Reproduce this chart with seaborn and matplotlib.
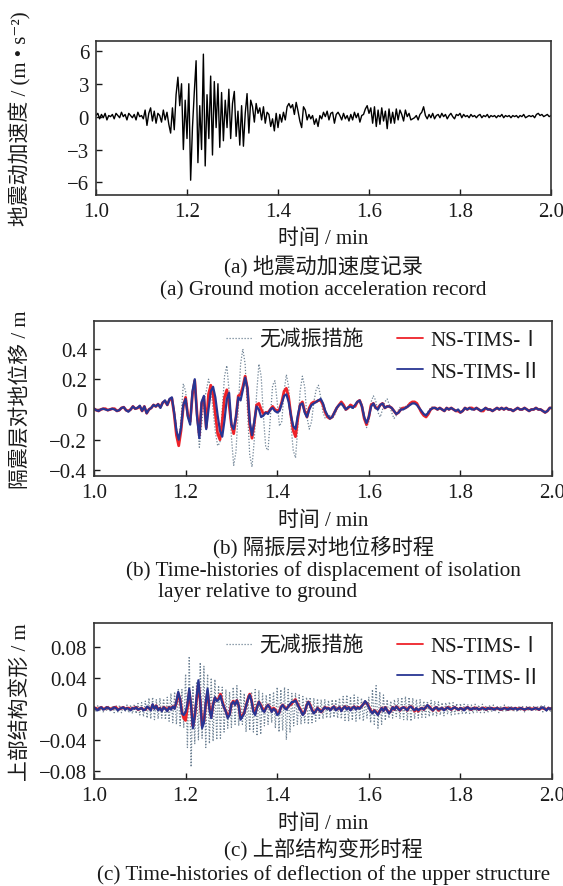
import numpy as np
import matplotlib
matplotlib.use("Agg")
import matplotlib.pyplot as plt
from matplotlib.lines import Line2D
import seaborn as sns

# ---------------- data ----------------
# (a) ground motion acceleration, m/s^2, sampled every 0.004 min from 1.000 to 2.000
t_a = np.round(1.0 + 0.004 * np.arange(251), 3)
acc = [
    0.1, 0.3, -0.2, 0.2, -0.1, 0.3, -0.3, 0.1, 0.0, 0.2,
    -0.2, 0.3, 0.1, -0.1, 0.4, 0.0, 0.2, -0.3, 0.3, 0.1,
    -0.1, 0.2, -0.3, 0.4, 0.0, 0.1, -0.2, 0.6, -0.8, 0.3,
    0.8, -0.4, 0.5, -0.6, 0.3, 0.1, -0.5, 0.6, -0.3, 0.4,
    -0.7, -1.5, 0.8, -1.2, 2.0, 3.6, 1.0, 3.0, -3.0, 1.5,
    -2.0, 3.0, -5.8, -1.0, 2.2, 5.1, -4.2, 1.0, -3.0, 5.7,
    -4.5, 2.0, -2.0, 3.7, -3.5, 3.2, -1.0, 3.0, -2.8, 2.2,
    -2.2, 1.5, -1.0, 2.5, -2.0, 1.2, 2.3, -1.8, 0.5, -2.6,
    1.0, -2.7, 0.3, 2.1, -1.5, 1.5, 0.9, -0.5, 1.2, 0.3,
    0.8, -0.3, 0.9, -0.6, 0.4, 0.2, -0.9, -0.2, -1.3, 0.3,
    -1.0, 0.2, -0.5, 0.4, -0.3, 0.9, 1.2, 0.8, 1.1, 0.2,
    1.3, 0.5, -0.4, -1.0, 0.9, 0.6, -0.3, 0.2, -0.2, 0.1,
    -0.7, -0.2, -0.9, 0.1, -0.2, 0.4, 0.0, 0.5, -0.3, 0.3,
    0.4, -0.6, 0.2, 0.4, 0.1, -0.3, 0.3, -0.2, 0.1, -0.4,
    0.2, -0.3, 0.4, -0.1, 0.3, -0.5, 0.1, 0.2, 0.7, 1.0,
    0.3, 0.8, -0.6, 0.9, -0.9, 0.6, -0.7, 0.8, -0.4, 0.5,
    -1.1, 0.7, -0.6, 0.4, -0.6, 0.7, -0.3, 0.6, 0.2, -0.4,
    0.6, 0.0, 0.3, -0.3, -0.2, -0.1, 0.1, -0.3, 0.2, 0.4,
    0.9, 0.1, -0.2, 0.2, -0.1, 0.3, -0.2, 0.1, 0.2, -0.1,
    0.3, 0.0, 0.2, -0.2, 0.1, 0.3, 0.0, -0.2, 0.2, 0.1,
    0.3, -0.1, 0.2, 0.0, 0.1, -0.1, 0.2, 0.0, 0.1, -0.1,
    0.1, 0.2, -0.1, 0.1, 0.0, 0.2, -0.1, 0.1, 0.0, 0.1,
    -0.1, 0.1, 0.0, 0.2, -0.1, 0.1, 0.0, 0.1, -0.1, 0.1,
    0.0, 0.1, -0.1, 0.1, 0.0, 0.2, -0.1, 0.0, 0.1, 0.0,
    0.1, -0.1, 0.2, 0.3, 0.1, 0.2, 0.0, 0.1, 0.2, 0.0,
    0.1,
]

# (b) isolation-layer displacement, m, sampled every 0.005 min
t_b = np.round(1.0 + 0.005 * np.arange(201), 3)
disp_none = [
    0.005, -0.005, -0.005, 0.000, 0.005, 0.000, -0.005, 0.000, 0.005, 0.000,
    -0.010, -0.005, 0.010, 0.015, -0.005, -0.010, 0.000, 0.020, 0.005, 0.010,
    0.020, -0.015, 0.020, -0.020, 0.000, 0.010, 0.025, 0.020, 0.035, 0.015,
    0.045, 0.060, 0.040, 0.060, 0.060, 0.000, -0.120, -0.220, -0.060, 0.170,
    0.120, -0.030, -0.100, 0.120, 0.200, -0.050, -0.250, -0.100, 0.050, 0.120,
    0.200, 0.140, 0.000, -0.150, -0.240, -0.220, 0.000, 0.220, 0.290, 0.120,
    -0.180, -0.370, -0.280, 0.000, 0.300, 0.400, 0.300, 0.000, -0.300, -0.380,
    -0.200, 0.100, 0.300, 0.220, -0.050, -0.250, -0.270, -0.050, 0.160, 0.190,
    0.050, -0.110, -0.080, 0.120, 0.230, 0.150, -0.100, -0.270, -0.320, -0.120,
    0.120, 0.220, 0.150, -0.050, -0.130, -0.080, 0.050, 0.130, 0.160, 0.080,
    -0.020, -0.060, -0.050, -0.040, -0.060, -0.040, 0.000, 0.030, 0.040, 0.010,
    -0.010, 0.010, 0.030, 0.000, 0.030, 0.050, 0.060, 0.040, -0.040, -0.120,
    -0.080, 0.050, 0.090, 0.060, -0.020, -0.050, 0.000, 0.050, 0.070, 0.030,
    -0.020, -0.060, -0.040, 0.000, 0.020, 0.000, 0.020, 0.030, 0.040, 0.040,
    0.050, 0.030, 0.000, -0.020, -0.040, -0.030, -0.010, 0.010, 0.020, 0.010,
    0.000, 0.010, 0.000, -0.010, 0.010, 0.000, 0.010, 0.000, -0.010, 0.000,
    -0.020, -0.010, 0.010, 0.000, 0.010, 0.000, 0.000, 0.010, 0.000, -0.010,
    0.000, 0.010, 0.000, 0.000, -0.010, 0.000, 0.010, 0.000, 0.010, 0.000,
    0.010, 0.000, 0.000, -0.010, 0.000, 0.010, 0.000, 0.000, 0.010, 0.000,
    -0.010, 0.000, 0.000, 0.010, 0.000, 0.000, -0.010, -0.020, -0.010, 0.010,
    0.010,
]
disp_I = [
    0.005, -0.005, -0.010, 0.000, 0.005, 0.005, -0.005, 0.000, 0.005, 0.005,
    -0.010, -0.005, 0.010, 0.015, -0.005, -0.010, 0.000, 0.020, 0.005, 0.010,
    0.020, -0.010, 0.020, -0.025, 0.000, 0.010, 0.030, 0.020, 0.035, 0.015,
    0.045, 0.055, 0.030, 0.065, 0.075, -0.030, -0.170, -0.240, -0.140, 0.020,
    0.080, -0.040, -0.080, 0.100, 0.190, -0.030, -0.170, 0.040, 0.080, -0.120,
    0.100, 0.160, 0.100, -0.030, -0.160, -0.200, -0.080, 0.080, 0.130, 0.030,
    -0.100, -0.160, -0.050, 0.090, 0.100, 0.150, 0.220, 0.140, -0.100, -0.190,
    -0.090, 0.030, 0.040, 0.000, -0.030, -0.020, -0.020, 0.000, 0.020, 0.000,
    -0.010, 0.000, 0.050, 0.120, 0.140, 0.080, -0.040, -0.140, -0.180, -0.060,
    0.030, 0.050, -0.010, -0.050, 0.010, 0.040, 0.050, 0.050, 0.060, 0.060,
    0.030, -0.020, -0.050, -0.060, -0.050, -0.020, 0.010, 0.030, 0.050, 0.030,
    0.000, 0.010, 0.030, 0.020, 0.020, 0.050, 0.060, 0.020, -0.060, -0.100,
    -0.050, 0.030, 0.040, 0.010, 0.010, 0.030, 0.040, 0.010, 0.020, 0.020,
    0.010, -0.010, -0.030, -0.020, 0.000, 0.010, 0.010, 0.020, 0.040, 0.050,
    0.050, 0.040, 0.010, -0.020, -0.040, -0.050, -0.030, 0.000, 0.010, 0.010,
    0.000, 0.010, 0.000, -0.010, 0.010, 0.000, 0.010, 0.000, -0.010, -0.010,
    -0.020, -0.010, 0.010, 0.000, 0.010, 0.010, 0.000, 0.010, 0.000, -0.010,
    -0.010, 0.010, 0.000, 0.000, -0.010, 0.000, 0.010, 0.000, 0.010, 0.000,
    0.010, 0.000, 0.000, -0.010, 0.000, 0.010, 0.000, 0.000, 0.010, 0.000,
    -0.010, 0.000, 0.000, 0.010, 0.000, 0.000, -0.010, -0.020, -0.010, 0.010,
    0.010,
]
disp_II = [
    0.005, -0.005, -0.010, 0.000, 0.005, 0.000, -0.005, 0.000, 0.005, 0.000,
    -0.010, -0.005, 0.010, 0.015, -0.005, -0.015, 0.000, 0.020, 0.005, 0.010,
    0.025, -0.010, 0.020, -0.025, 0.000, 0.010, 0.030, 0.020, 0.035, 0.010,
    0.045, 0.060, 0.030, 0.070, 0.080, -0.020, -0.140, -0.200, -0.120, 0.030,
    0.070, -0.050, -0.100, 0.120, 0.200, -0.050, -0.190, 0.050, 0.090, -0.130,
    0.000, 0.120, 0.150, 0.080, -0.040, -0.140, -0.180, -0.070, 0.070, 0.110,
    -0.100, -0.130, -0.050, 0.080, 0.060, 0.130, 0.210, 0.140, -0.080, -0.170,
    -0.080, 0.020, 0.000, -0.050, -0.040, -0.020, -0.030, 0.000, 0.010, -0.010,
    -0.020, -0.010, 0.040, 0.090, 0.100, 0.050, -0.040, -0.110, -0.130, -0.040,
    0.030, 0.040, -0.020, -0.050, 0.000, 0.030, 0.040, 0.050, 0.060, 0.070,
    0.040, -0.010, -0.040, -0.060, -0.050, -0.020, 0.010, 0.030, 0.040, 0.020,
    0.000, 0.015, 0.020, 0.010, 0.030, 0.050, 0.060, 0.020, -0.050, -0.090,
    -0.050, 0.020, 0.040, 0.010, 0.000, 0.030, 0.040, 0.010, 0.020, 0.020,
    0.010, -0.010, -0.030, -0.020, 0.000, 0.000, 0.010, 0.020, 0.030, 0.040,
    0.040, 0.030, 0.010, -0.010, -0.030, -0.040, -0.020, 0.000, 0.010, 0.010,
    0.000, 0.010, 0.000, -0.010, 0.010, 0.000, 0.010, 0.000, -0.010, 0.000,
    -0.020, -0.010, 0.010, 0.000, 0.010, 0.000, 0.000, 0.010, 0.000, -0.010,
    0.000, 0.010, 0.000, 0.000, -0.010, 0.000, 0.010, 0.000, 0.010, 0.000,
    0.010, 0.000, 0.000, -0.010, 0.000, 0.010, 0.000, 0.000, 0.010, 0.000,
    -0.010, 0.000, 0.000, 0.010, 0.000, 0.000, -0.010, -0.020, -0.010, 0.010,
    0.010,
]

# (c) upper-structure deflection, m, sampled every 0.004 min
t_c = np.round(1.0 + 0.004 * np.arange(251), 3)
def_none = [
    0.003, -0.004, 0.004, -0.003, 0.004, -0.004, 0.003, -0.003, 0.004, -0.004,
    0.004, -0.005, 0.005, -0.004, 0.005, -0.005, 0.004, -0.004, 0.005, -0.005,
    0.005, -0.006, 0.006, -0.006, 0.007, -0.008, 0.008, -0.010, 0.010, -0.012,
    0.014, -0.013, 0.015, -0.014, 0.012, -0.013, 0.014, -0.012, 0.013, -0.014,
    0.015, -0.016, 0.020, -0.018, 0.022, -0.020, 0.025, -0.022, 0.025, -0.024,
    0.045, -0.050, 0.068, -0.075, 0.030, -0.045, 0.035, -0.040, 0.060, -0.038,
    0.055, -0.050, 0.045, -0.045, 0.040, -0.042, 0.038, -0.040, 0.030, -0.038,
    0.028, -0.030, 0.025, -0.025, 0.022, -0.024, 0.028, -0.020, 0.030, -0.022,
    0.025, -0.020, 0.020, -0.030, 0.018, -0.028, 0.022, -0.030, 0.025, -0.035,
    0.024, -0.033, 0.020, -0.022, 0.018, -0.020, 0.020, -0.018, 0.022, -0.025,
    0.028, -0.030, 0.025, -0.028, 0.028, -0.040, 0.025, -0.030, 0.020, -0.022,
    0.020, -0.020, 0.018, -0.020, 0.016, -0.018, 0.015, -0.020, 0.015, -0.018,
    0.014, -0.016, 0.013, -0.014, 0.012, -0.013, 0.012, -0.012, 0.011, -0.012,
    0.012, -0.011, 0.012, -0.012, 0.014, -0.013, 0.016, -0.015, 0.018, -0.016,
    0.016, -0.015, 0.018, -0.016, 0.015, -0.014, 0.014, -0.016, 0.012, -0.012,
    0.015, -0.018, 0.025, -0.020, 0.030, -0.025, 0.022, -0.020, 0.018, -0.015,
    0.012, -0.012, 0.010, -0.012, 0.012, -0.010, 0.014, -0.013, 0.015, -0.014,
    0.016, -0.015, 0.015, -0.016, 0.014, -0.013, 0.012, -0.012, 0.012, -0.011,
    0.010, -0.011, 0.010, -0.010, 0.011, -0.009, 0.010, -0.009, 0.009, -0.008,
    0.008, -0.009, 0.008, -0.007, 0.009, -0.008, 0.008, -0.007, 0.007, -0.008,
    0.007, -0.006, 0.006, -0.007, 0.006, -0.006, 0.005, -0.006, 0.006, -0.005,
    0.005, -0.005, 0.006, -0.005, 0.004, -0.005, 0.005, -0.004, 0.005, -0.004,
    0.004, -0.005, 0.004, -0.004, 0.005, -0.004, 0.004, -0.003, 0.004, -0.004,
    0.003, -0.004, 0.004, -0.003, 0.003, -0.004, 0.003, -0.003, 0.004, -0.003,
    0.003, -0.003, 0.004, -0.003, 0.005, -0.004, 0.004, -0.003, 0.003, -0.004,
    0.002,
]
def_I = [
    0.001, 0.001, -0.001, 0.001, 0.002, 0.000, 0.000, 0.002, 0.001, 0.000,
    0.000, 0.002, 0.002, -0.001, 0.000, 0.001, 0.002, 0.000, 0.001, 0.001,
    -0.001, 0.001, 0.001, 0.002, -0.001, 0.000, 0.001, -0.001, -0.001, 0.002,
    0.001, -0.001, 0.005, 0.001, 0.004, -0.001, 0.001, -0.002, 0.002, 0.001,
    -0.002, 0.002, 0.000, 0.003, 0.001, 0.008, 0.020, 0.012, -0.004, -0.012,
    -0.015, 0.002, 0.022, 0.004, -0.022, -0.010, 0.012, 0.032, 0.010, -0.022,
    -0.016, 0.006, 0.022, 0.002, -0.010, 0.006, 0.014, 0.012, 0.013, 0.019,
    0.010, 0.002, -0.003, -0.010, -0.007, 0.006, 0.010, 0.006, 0.011, 0.004,
    -0.012, -0.009, -0.005, 0.004, 0.013, 0.019, 0.011, -0.002, -0.006, 0.003,
    0.009, 0.005, 0.000, -0.003, 0.002, 0.005, 0.002, -0.003, 0.001, -0.001,
    -0.006, -0.005, 0.002, 0.005, 0.002, 0.000, 0.003, 0.005, 0.007, 0.010,
    0.012, 0.007, 0.002, -0.002, -0.007, -0.004, 0.004, 0.009, 0.005, -0.001,
    -0.005, -0.003, 0.001, -0.001, -0.004, -0.001, 0.002, 0.001, 0.001, -0.001,
    0.001, 0.003, -0.001, 0.000, 0.002, -0.002, 0.001, 0.003, 0.000, 0.002,
    -0.001, 0.001, 0.003, 0.000, 0.002, 0.001, 0.003, 0.006, 0.009, 0.007,
    0.003, -0.002, -0.005, -0.002, -0.004, -0.007, -0.003, 0.001, -0.002, 0.002,
    -0.002, -0.005, -0.003, 0.002, -0.001, 0.003, 0.001, -0.002, 0.001, 0.002,
    0.001, -0.002, 0.002, 0.003, 0.001, -0.003, 0.000, -0.003, 0.000, 0.001,
    -0.001, 0.002, 0.004, 0.003, 0.000, -0.002, 0.001, 0.002, -0.002, 0.000,
    0.001, -0.001, 0.000, 0.002, 0.001, -0.001, 0.001, 0.002, 0.000, -0.001,
    0.001, 0.000, -0.001, 0.001, 0.002, 0.000, -0.001, 0.001, 0.001, 0.001,
    -0.001, 0.000, 0.001, 0.001, -0.001, 0.001, 0.000, 0.001, 0.000, 0.000,
    0.001, 0.000, -0.001, 0.000, 0.001, 0.001, -0.001, 0.001, 0.000, 0.000,
    0.001, 0.000, 0.000, 0.001, 0.000, -0.001, 0.000, 0.001, 0.000, 0.000,
    0.000, 0.001, 0.000, -0.001, 0.001, 0.001, 0.000, -0.001, 0.001, 0.000,
    0.001,
]
def_II = [
    0.002, 0.000, -0.002, 0.001, 0.002, -0.001, 0.000, 0.002, 0.001, -0.001,
    0.000, 0.002, 0.001, -0.002, 0.000, 0.001, 0.002, -0.001, 0.001, 0.000,
    -0.002, 0.001, 0.000, 0.002, -0.001, 0.000, 0.001, -0.002, -0.001, 0.003,
    0.001, -0.002, 0.006, 0.000, 0.004, -0.002, 0.001, -0.003, 0.002, 0.000,
    -0.003, 0.002, -0.001, 0.003, 0.000, 0.010, 0.022, 0.012, -0.006, -0.008,
    -0.004, 0.006, 0.026, 0.004, -0.025, -0.010, 0.015, 0.037, 0.010, -0.025,
    -0.018, 0.008, 0.026, 0.000, -0.012, 0.005, 0.015, 0.010, 0.012, 0.017,
    0.008, 0.002, -0.004, -0.012, -0.008, 0.006, 0.009, 0.005, 0.011, 0.004,
    -0.014, -0.010, -0.006, 0.004, 0.012, 0.018, 0.010, -0.004, -0.008, 0.002,
    0.009, 0.004, -0.002, -0.004, 0.002, 0.005, 0.001, -0.004, 0.000, -0.002,
    -0.008, -0.006, 0.002, 0.005, 0.001, -0.001, 0.003, 0.006, 0.009, 0.009,
    0.011, 0.006, 0.001, -0.003, -0.008, -0.004, 0.004, 0.009, 0.004, -0.002,
    -0.006, -0.003, 0.001, -0.002, -0.004, -0.001, 0.002, 0.000, 0.001, -0.002,
    0.001, 0.003, -0.002, 0.000, 0.002, -0.003, 0.001, 0.003, -0.001, 0.002,
    -0.002, 0.001, 0.003, -0.001, 0.002, 0.000, 0.003, 0.006, 0.010, 0.007,
    0.002, -0.003, -0.006, -0.002, -0.005, -0.008, -0.003, 0.001, -0.003, 0.002,
    -0.002, -0.006, -0.003, 0.002, -0.001, 0.003, 0.000, -0.002, 0.001, 0.002,
    0.000, -0.002, 0.002, 0.003, 0.000, -0.002, 0.001, -0.002, 0.000, 0.001,
    -0.001, 0.002, 0.005, 0.002, 0.000, -0.002, 0.001, 0.002, -0.001, 0.000,
    0.001, -0.002, 0.000, 0.002, 0.000, -0.001, 0.001, 0.002, 0.000, -0.001,
    0.001, 0.000, -0.002, 0.001, 0.002, 0.000, -0.001, 0.001, 0.000, 0.001,
    -0.001, 0.000, 0.001, 0.000, -0.001, 0.001, 0.000, 0.001, -0.001, 0.000,
    0.001, 0.000, -0.001, 0.000, 0.001, 0.000, -0.001, 0.001, 0.000, 0.000,
    0.001, -0.001, 0.000, 0.001, 0.000, -0.001, 0.000, 0.001, 0.000, -0.001,
    0.000, 0.001, 0.000, -0.001, 0.001, 0.002, 0.000, -0.002, 0.001, 0.000,
    0.001,
]

x_ticks = [1.0, 1.2, 1.4, 1.6, 1.8, 2.0]
x_ticklabels = ["1.0", "1.2", "1.4", "1.6", "1.8", "2.0"]
a_yticks = [-6, -3, 0, 3, 6]
a_yticklabels = ["\u22126", "\u22123", "0", "3", "6"]
b_yticks = [-0.4, -0.2, 0, 0.2, 0.4]
b_yticklabels = ["\u22120.4", "\u22120.2", "0", "0.2", "0.4"]
c_yticks = [-0.08, -0.04, 0, 0.04, 0.08]
c_yticklabels = ["\u22120.08", "\u22120.04", "0", "0.04", "0.08"]
series_labels = ["无减振措施", "NS-TIMS-Ⅰ", "NS-TIMS-Ⅱ"]

# ---------------- style ----------------
sns.set_theme(style="ticks")
plt.rcParams["font.family"] = ["Liberation Serif", "Noto Sans CJK SC", "DejaVu Sans"]
plt.rcParams["axes.unicode_minus"] = True

W, H = 563, 887
fig = plt.figure(figsize=(W / 100, H / 100), dpi=100)
fig.patch.set_facecolor("white")

C_NONE = "#6e8294"
C_RED = "#ee2229"
C_BLUE = "#283593"
DOT = (0, (1, 1.4))
TXT = "#1a1a1a"
CAP = 15.3


def px_rect(l, r, top, bot):
    return [l / W, 1 - bot / H, (r - l) / W, (bot - top) / H]


def style_axes(ax, yticks, yticklabels, ylim):
    ax.set_xlim(1.0, 2.0)
    ax.set_ylim(*ylim)
    ax.set_xticks(x_ticks)
    ax.set_xticklabels(x_ticklabels)
    ax.set_yticks(yticks)
    ax.set_yticklabels(yticklabels)
    ax.set_xlabel("")
    ax.set_ylabel("")
    ax.tick_params(direction="in", length=4, width=1, labelsize=15,
                   top=False, right=False, colors=TXT, pad=5)
    ax.tick_params(axis="x", pad=5)
    for s in ax.spines.values():
        s.set_visible(True)
        s.set_linewidth(1.2)
        s.set_color("#333333")


# ---------------- panel (a) ----------------
ax_a = fig.add_axes(px_rect(96, 551, 42, 196))
sns.lineplot(x=t_a, y=acc, ax=ax_a, color="black", lw=1.0, estimator=None)
style_axes(ax_a, a_yticks, a_yticklabels, (-7.15, 6.9))

# ---------------- panel (b) ----------------
ax_b = fig.add_axes(px_rect(94, 552, 322, 477))
sns.lineplot(x=t_b, y=disp_none, ax=ax_b, color=C_NONE, lw=0.9, linestyle=DOT, estimator=None)
sns.lineplot(x=t_b, y=disp_I, ax=ax_b, color=C_RED, lw=2.0, estimator=None)
sns.lineplot(x=t_b, y=disp_II, ax=ax_b, color=C_BLUE, lw=1.6, estimator=None)
style_axes(ax_b, b_yticks, b_yticklabels, (-0.44, 0.585))

# ---------------- panel (c) ----------------
ax_c = fig.add_axes(px_rect(94, 552, 624, 780))
sns.lineplot(x=t_c, y=def_none, ax=ax_c, color=C_NONE, lw=0.9, linestyle=DOT, estimator=None)
sns.lineplot(x=t_c, y=def_I, ax=ax_c, color=C_RED, lw=2.0, estimator=None)
sns.lineplot(x=t_c, y=def_II, ax=ax_c, color=C_BLUE, lw=1.6, estimator=None)
style_axes(ax_c, c_yticks, c_yticklabels, (-0.0907, 0.111))


def add_legend(ax, top_px):
    handles = [
        Line2D([], [], color=C_NONE, lw=0.9, linestyle=DOT),
        Line2D([], [], alpha=0),
        Line2D([], [], color=C_RED, lw=1.3),
        Line2D([], [], color=C_BLUE, lw=1.3),
    ]
    labels = [series_labels[0], "", series_labels[1], series_labels[2]]
    leg = ax.legend(handles, labels, ncol=2, frameon=False, loc="upper left",
                    bbox_to_anchor=(226 / W, 1 - top_px / H), bbox_transform=fig.transFigure,
                    borderpad=0, borderaxespad=0, handlelength=1.25, handletextpad=0.35,
                    columnspacing=1.6, labelspacing=0.58, fontsize=15)
    for txt in leg.get_texts():
        txt.set_color(TXT)


add_legend(ax_b, 331)
add_legend(ax_c, 637)

# ---------------- texts ----------------
fig.text(20 / W, 1 - 119 / H, "地震动加速度 / (m • s⁻²)", rotation=90, ha="center", va="center",
         fontsize=15, color=TXT)
fig.text(21 / W, 1 - 400 / H, "隔震层对地位移 / m", rotation=90, ha="center", va="center",
         fontsize=15, color=TXT)
fig.text(21 / W, 1 - 702 / H, "上部结构变形 / m", rotation=90, ha="center", va="center",
         fontsize=15, color=TXT)

for yc in (239, 521, 824):
    fig.text(323.5 / W, 1 - yc / H, "时间 / min", ha="center", va="center", fontsize=15, color=TXT)

fig.text(323.5 / W, 1 - 267 / H, "(a) 地震动加速度记录", ha="center", va="center", fontsize=CAP, color=TXT)
fig.text(323.5 / W, 1 - 291 / H, "(a) Ground motion acceleration record", ha="center", va="center",
         fontsize=CAP, color=TXT)
fig.text(323.5 / W, 1 - 547 / H, "(b) 隔振层对地位移时程", ha="center", va="center", fontsize=CAP, color=TXT)
fig.text(323.5 / W, 1 - 571 / H, "(b) Time-histories of displacement of isolation", ha="center",
         va="center", fontsize=CAP, color=TXT)
fig.text(158 / W, 1 - 593 / H, "layer relative to ground", ha="left", va="center",
         fontsize=CAP, color=TXT)
fig.text(323.5 / W, 1 - 850 / H, "(c) 上部结构变形时程", ha="center", va="center", fontsize=CAP, color=TXT)
fig.text(323.5 / W, 1 - 875 / H, "(c) Time-histories of deflection of the upper structure", ha="center",
         va="center", fontsize=CAP, color=TXT)

fig.savefig("out.png", dpi=100, facecolor="white")
